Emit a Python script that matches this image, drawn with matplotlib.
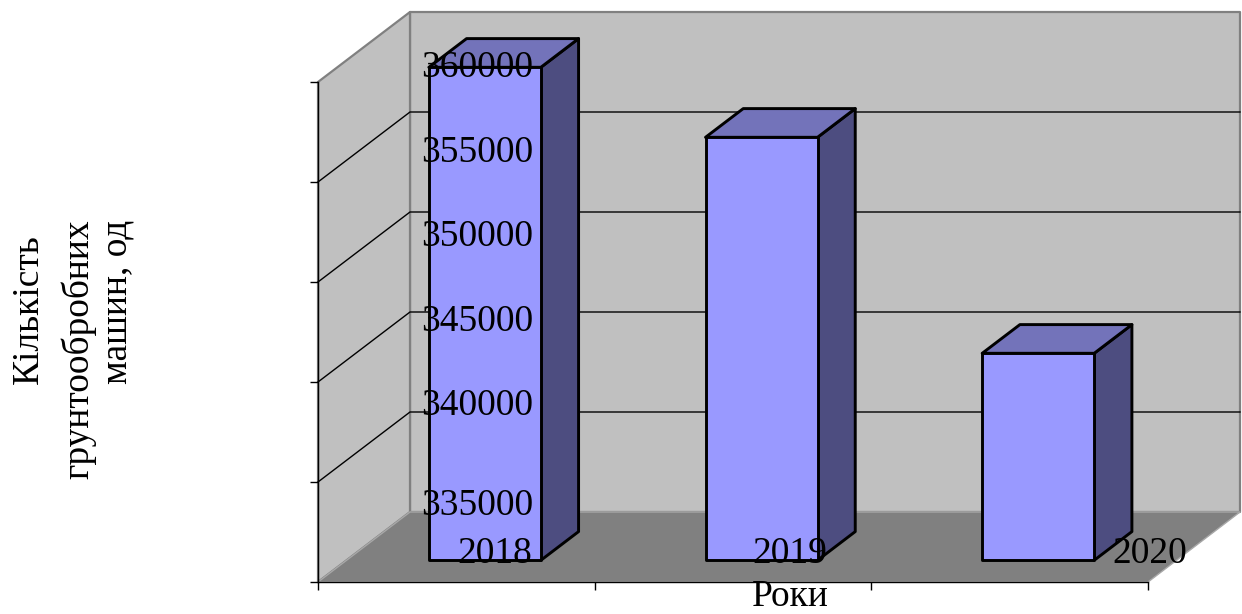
import matplotlib.pyplot as plt
from matplotlib.patches import Polygon

# data
years = ['2018', '2019', '2020']
machines = [359650, 356150, 345350]
value_ticks = [335000, 340000, 345000, 350000, 355000, 360000]
ylabel_lines = ['Кількість', 'грунтообробних', 'машин, од']
xlabel = 'Роки'

W, H = 1242, 614
FRONT = '#9999FF'
TOP = '#7373BA'
SIDE = '#4D4D80'
WALL = '#C0C0C0'
FLOOR = '#808080'
FS = 27
FONT = ['Liberation Serif', 'DejaVu Serif']

fig = plt.figure(figsize=(W / 100, H / 100), dpi=100)
# front plane of the pseudo 3d box
ax = fig.add_axes([318 / W, 32 / H, 830 / W, 500 / H])
vmin, vmax = value_ticks[0], value_ticks[-1]
ax.set_xlim(0, len(years))
ax.set_ylim(vmin, vmax)
ax.patch.set_visible(False)
for s in ['top', 'right']:
    ax.spines[s].set_visible(False)
for s in ['left', 'bottom']:
    ax.spines[s].set_linewidth(1.0)
    ax.spines[s].set_zorder(6)
ax.set_xticks(range(len(years) + 1))
ax.set_yticks(value_ticks)
ax.set_xticklabels([])
ax.set_yticklabels([])
ax.tick_params(direction='out', length=6, width=1.0)

# depth offset of the box (category units, value units)
DX = 92 / (830 / len(years))
DY = 70 * (vmax - vmin) / 500


def p(x, v, d):
    return (x + d * DX, v + d * DY)


def poly(pts, fc, ec='black', lw=2.1, z=2):
    ax.add_patch(Polygon(pts, closed=True, facecolor=fc, edgecolor=ec,
                         linewidth=lw, zorder=z, clip_on=False,
                         joinstyle='round'))


n = len(years)
# walls and floor
poly([p(0, vmin, 1), p(n, vmin, 1), p(n, vmax, 1), p(0, vmax, 1)],
     WALL, ec='#808080', lw=1.6, z=1)
poly([p(0, vmin, 0), p(0, vmin, 1), p(0, vmax, 1), p(0, vmax, 0)],
     WALL, ec='#808080', lw=1.6, z=1)
poly([p(0, vmin, 0), p(n, vmin, 0), p(n, vmin, 1), p(0, vmin, 1)],
     FLOOR, ec='#A8A8A8', lw=1.0, z=1.5)

for v in value_ticks[1:-1]:
    xs, ys = zip(p(0, v, 0), p(0, v, 1), p(n, v, 1))
    ax.plot(xs, ys, color='black', lw=1.0, zorder=1.2, clip_on=False)

# bars
bw = 112 / (830 / n)
d0, d1 = 0.31, 0.72
for i, val in enumerate(machines):
    x0 = i + (1 - bw) / 2
    x1 = x0 + bw
    poly([p(x1, vmin, d0), p(x1, vmin, d1), p(x1, val, d1), p(x1, val, d0)],
         SIDE, z=3)
    poly([p(x0, val, d0), p(x1, val, d0), p(x1, val, d1), p(x0, val, d1)],
         TOP, z=3)
    poly([p(x0, vmin, d0), p(x1, vmin, d0), p(x1, val, d0), p(x0, val, d0)],
         FRONT, z=3)


def px_text(x, y, s, **kw):
    fig.text(x / W, 1 - y / H, s, fontsize=FS, family=FONT,
             rotation_mode='anchor', va='baseline', zorder=10, **kw)


# value axis labels (drawn over the first bar as in the source)
label_bottoms = [515, 415, 331, 246, 162, 77]
for t, yb in zip(value_ticks, label_bottoms):
    px_text(533, yb, str(t), ha='right')

# category labels
year_right = [532, 827, 1187]
for yr, xr in zip(years, year_right):
    px_text(xr, 563, yr, ha='right')

px_text(790, 606, xlabel, ha='center')

# y label, three rotated lines
for s, (xb, yc) in zip(ylabel_lines, [(38, 309), (88, 349), (127, 302)]):
    px_text(xb, yc, s, ha='center', rotation=90)

fig.savefig('out.png', dpi=100)
